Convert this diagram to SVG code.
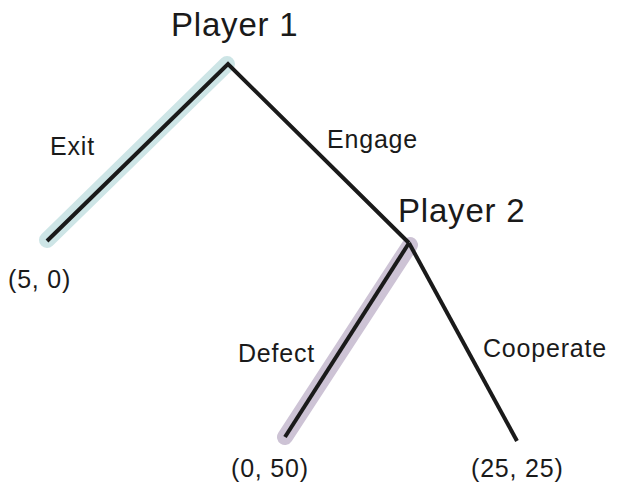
<svg xmlns="http://www.w3.org/2000/svg" width="617" height="492" viewBox="0 0 617 492">
  <style>
    .hl { fill: none; stroke-width: 16; stroke-linecap: round; }
    .edge { fill: none; stroke: #1a1a1a; stroke-width: 4; stroke-linecap: butt; stroke-linejoin: miter; }
    .title { font-family: "Liberation Sans", Arial, sans-serif; font-size: 33px; fill: #1a1a1a; letter-spacing: 0.8px; }
    .lbl { font-family: "Liberation Sans", Arial, sans-serif; font-size: 25px; fill: #1a1a1a; letter-spacing: 0.8px; }
  </style>
  <rect width="617" height="492" fill="#ffffff"/>
  <g id="connectors">
    <line class="hl" x1="227" y1="64" x2="47" y2="240" stroke="#cde5e6"/>
    <line class="hl" x1="410" y1="245" x2="285" y2="437" stroke="#cdc3d5"/>
    <polyline class="edge" points="47,241 228,64 409,243"/>
    <line class="edge" x1="409" y1="243" x2="285" y2="437"/>
    <line class="edge" x1="409" y1="243" x2="517" y2="441"/>
    <text class="lbl" x="50" y="155">Exit</text>
    <text class="lbl" x="327" y="148">Engage</text>
    <text class="lbl" x="238" y="362">Defect</text>
    <text class="lbl" x="483" y="357">Cooperate</text>
  </g>
  <g id="player1">
    <text class="title" x="171" y="36">Player 1</text>
  </g>
  <g id="player2">
    <text class="title" x="398" y="222">Player 2</text>
  </g>
  <g id="outcome-exit">
    <text class="lbl" x="8" y="288">(5, 0)</text>
  </g>
  <g id="outcome-defect">
    <text class="lbl" x="231" y="477">(0, 50)</text>
  </g>
  <g id="outcome-cooperate">
    <text class="lbl" x="471" y="477">(25, 25)</text>
  </g>
</svg>
